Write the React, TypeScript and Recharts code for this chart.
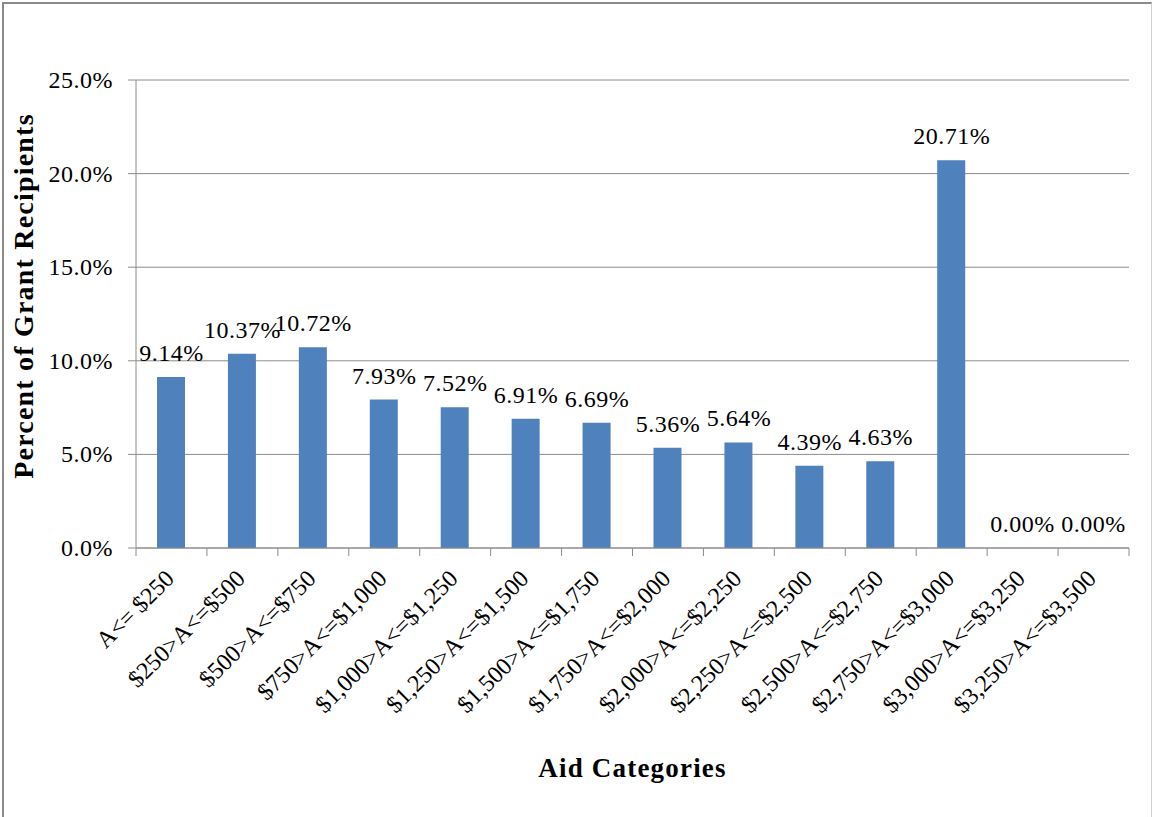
import { ComposedChart, Bar, Line, XAxis, YAxis, CartesianGrid, LabelList } from 'recharts'

const categories = [
  'A<= $250',
  '$250>A<=$500',
  '$500>A<=$750',
  '$750>A<=$1,000',
  '$1,000>A<=$1,250',
  '$1,250>A<=$1,500',
  '$1,500>A<=$1,750',
  '$1,750>A<=$2,000',
  '$2,000>A<=$2,250',
  '$2,250>A<=$2,500',
  '$2,500>A<=$2,750',
  '$2,750>A<=$3,000',
  '$3,000>A<=$3,250',
  '$3,250>A<=$3,500',
]
const percents = [9.14, 10.37, 10.72, 7.93, 7.52, 6.91, 6.69, 5.36, 5.64, 4.39, 4.63, 20.71, 0, 0]
const yTicks = [0, 5, 10, 15, 20, 25]

const data = categories.map((name, i) => ({ name, value: percents[i] }))

const FONT = '"Liberation Serif", "Times New Roman", serif'
const GRID = '#8c8c8c'
const PLOT_LEFT = 136
const PLOT_RIGHT = 1129
const AXIS_Y = 548
const BAND = (PLOT_RIGHT - PLOT_LEFT) / categories.length

function XTick(props: any) {
  const { x, payload, index } = props
  const ax = x + 4
  const ay = AXIS_Y + 32
  return (
    <g>
      <line x1={x - BAND / 2} x2={x - BAND / 2} y1={AXIS_Y} y2={AXIS_Y + 8} stroke={GRID} />
      {index === categories.length - 1 && (
        <line x1={x + BAND / 2} x2={x + BAND / 2} y1={AXIS_Y} y2={AXIS_Y + 8} stroke={GRID} />
      )}
      <text
        x={ax}
        y={ay}
        transform={`rotate(-45, ${ax}, ${ay})`}
        textAnchor="end"
        fontFamily={FONT}
        fontSize={24}
        fill="#000"
      >
        {payload.value}
      </text>
    </g>
  )
}

function YTick(props: any) {
  const { y, payload } = props
  return (
    <text x={113} y={y + 8} textAnchor="end" fontFamily={FONT} fontSize={24} letterSpacing={0.5} fill="#000">
      {`${Number(payload.value).toFixed(1)}%`}
    </text>
  )
}

export default function App() {
  return (
    <div style={{ position: 'absolute', left: 0, top: 0, width: 1152, height: 817, background: '#fff' }}>
      <div
        style={{
          position: 'absolute',
          left: 2,
          top: 2,
          width: 1147,
          height: 820,
          borderLeft: '2px solid #8a8a8a',
          borderTop: '2px solid #8a8a8a',
          borderRight: '1px solid #d0d0d0',
        }}
      />
      <div style={{ position: 'absolute', left: 0, top: 0 }}>
        <ComposedChart
          width={1152}
          height={817}
          data={data}
          margin={{ top: 80, right: 1152 - PLOT_RIGHT, bottom: 0, left: 0 }}
        >
          <CartesianGrid vertical={false} stroke={GRID} strokeWidth={1} />
          <XAxis
            dataKey="name"
            height={817 - AXIS_Y}
            interval={0}
            stroke={GRID}
            tickLine={false}
            tick={<XTick />}
            label={(p: any) => (
              <text
                x={p.viewBox.x + p.viewBox.width / 2}
                y={777}
                textAnchor="middle"
                fontFamily={FONT}
                fontSize={27}
                letterSpacing={1.2}
                fontWeight="bold"
                fill="#000"
              >
                Aid Categories
              </text>
            )}
          />
          <YAxis
            width={PLOT_LEFT}
            domain={[0, 25]}
            ticks={yTicks}
            stroke={GRID}
            tickSize={8}
            tick={<YTick />}
            label={() => (
              <text
                x={33}
                y={296}
                transform="rotate(-90, 33, 296)"
                textAnchor="middle"
                fontFamily={FONT}
                fontSize={28}
                letterSpacing={1.2}
                fontWeight="bold"
                fill="#000"
              >
                Percent of Grant Recipients
              </text>
            )}
          />
          <Bar dataKey="value" fill="#4f81bd" barSize={28} isAnimationActive={false} />
          <Line
            dataKey="value"
            stroke="none"
            dot={false}
            activeDot={false}
            legendType="none"
            isAnimationActive={false}
          >
            <LabelList
              dataKey="value"
              position="top"
              offset={16}
              formatter={(v: any) => `${Number(v).toFixed(2)}%`}
              style={{ fontFamily: FONT, fontSize: 24, fill: '#000', letterSpacing: 0.5 }}
            />
          </Line>
        </ComposedChart>
      </div>
    </div>
  )
}
